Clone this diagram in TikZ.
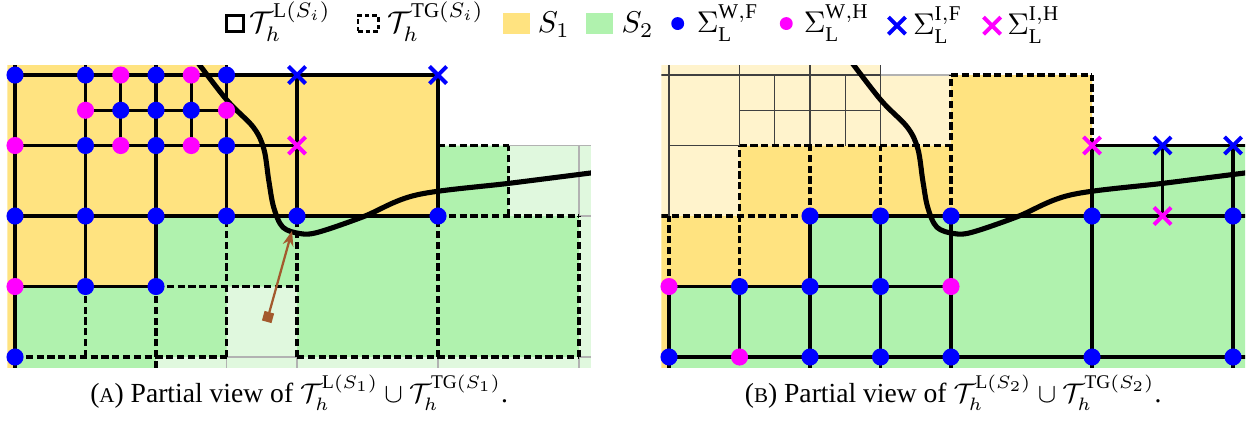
\documentclass[tikz,border=0pt]{standalone}
\usepackage{fontspec}
\setmainfont{Liberation Serif}
\usetikzlibrary{arrows.meta,positioning,shapes.misc}
\definecolor{soneyellow}{RGB}{255,227,128}
\definecolor{sonefaint}{RGB}{255,243,204}
\definecolor{stwogreen}{RGB}{176,242,174}
\definecolor{stwofaint}{RGB}{224,248,222}
\definecolor{markblue}{RGB}{0,0,255}
\definecolor{markmagenta}{RGB}{255,0,255}
\definecolor{arrowbrown}{RGB}{163,90,45}
\tikzset{
  mesh/.style={line width=1.15pt, line cap=round, line join=round},
  ghost/.style={line width=1.15pt, dash pattern=on 2.4pt off 1.2pt, line join=round},
  fine/.style={line width=0.4pt, draw=black!75},
  faint/.style={line width=0.4pt, draw=black!30},
  interface/.style={line width=1.7pt, line cap=round},
  node-wf/.style={circle, fill=markblue, minimum size=5.7pt, inner sep=0pt},
  node-wh/.style={circle, fill=markmagenta, minimum size=5.7pt, inner sep=0pt},
  node-if/.style={cross out, draw=markblue, line width=1.3pt, minimum size=4.4pt, inner sep=0pt},
  node-ih/.style={cross out, draw=markmagenta, line width=1.3pt, minimum size=4.4pt, inner sep=0pt},
  lbl/.style={inner sep=0pt, anchor=base west, yshift=-3.1pt},
  caption/.style={anchor=base, font=\fontsize{9.2pt}{11pt}\selectfont}
}
\newcommand{\interfacecurve}{%
  \draw[interface] plot[smooth, tension=0.55] coordinates {(2.5,4.3) (3.0,3.65)
    (3.38,3.26) (3.53,2.95) (3.6,2.5) (3.67,2.12) (3.8,1.84) (4.05,1.75)
    (4.3,1.77) (4.94,1.99) (5.7,2.3) (7.06,2.47) (8.4,2.64)};
}
\newcommand{\capletter}[1]{{\fontsize{7pt}{9pt}\selectfont #1}}

\begin{document}
\begin{tikzpicture}[x=0.826cm, y=0.826cm]
  \useasboundingbox (-0.213,-1.007) rectangle (17.617,5.064);
  % legend
  \node[draw, line width=0.9pt, minimum width=5.8pt, minimum height=5.2pt, inner sep=0pt] (key-mesh) at (3.12,4.73) {};
  \node[right=1.3pt of key-mesh, lbl] (key-mesh-text) {$\mathcal{T}_h^{\mathrm{L}(S_i)}$};
  \node[draw, line width=0.9pt, dash pattern=on 1.5pt off 1pt, minimum width=6.8pt, minimum height=5.2pt, inner sep=0pt] (key-ghost) at (5.01,4.73) {};
  \node[right=2.3pt of key-ghost, lbl] (key-ghost-text) {$\mathcal{T}_h^{\mathrm{TG}(S_i)}$};
  \node[fill=soneyellow, minimum width=9pt, minimum height=7pt, inner sep=0pt] (key-sone) at (7.11,4.73) {};
  \node[right=2.3pt of key-sone, lbl] (key-sone-text) {$S_1$};
  \node[fill=stwogreen, minimum width=9pt, minimum height=7pt, inner sep=0pt] (key-stwo) at (8.29,4.73) {};
  \node[right=2.5pt of key-stwo, lbl] (key-stwo-text) {$S_2$};
  \node[node-wf, minimum size=4.3pt] (key-wf) at (9.40,4.73) {};
  \node[right=3.8pt of key-wf, lbl] (key-wf-text) {$\Sigma_{\mathrm{L}}^{\mathrm{W,F}}$};
  \node[node-wh, minimum size=4.3pt] (key-wh) at (10.94,4.73) {};
  \node[right=3.3pt of key-wh, lbl] (key-wh-text) {$\Sigma_{\mathrm{L}}^{\mathrm{W,H}}$};
  \node[node-if] (key-if) at (12.51,4.70) {};
  \node[right=2.3pt of key-if, lbl] (key-if-text) {$\Sigma_{\mathrm{L}}^{\mathrm{I,F}}$};
  \node[node-ih] (key-ih) at (13.86,4.70) {};
  \node[right=2pt of key-ih, lbl] (key-ih-text) {$\Sigma_{\mathrm{L}}^{\mathrm{I,H}}$};

  % (a) view from S1
  \begin{scope}
    \clip (-0.11,-0.155) rectangle (8.17,4.14);
    \fill[soneyellow] (-0.11,-0.155) rectangle (0,1) (-0.11,1) rectangle (2,2)
      (-0.11,2) rectangle (3,4.14) (3,2) rectangle (6,4);
    \fill[stwogreen] (0,-0.155) rectangle (2,1) (2,0) rectangle (8,2) (6,2) rectangle (7,3);
    \fill[stwofaint] (2,-0.155) rectangle (8.17,0) (3,0) rectangle (4,1)
      (8,0) rectangle (8.17,3) (7,2) rectangle (8.17,3);
    \draw[faint] (3,0) -- (4,0) (8,0) -- (8.17,0) (8,2) -- (8.17,2)
      (7,3) -- (8.17,3) (8,2) -- (8,3);
    \foreach \x in {3,4,6,8}
      \draw[faint] (\x,-0.155) -- (\x,0);
    \draw[ghost] (0,0) -- (3,0) (4,0) -- (8,0) (2,1) -- (4,1) (6,2) -- (8,2)
      (6,3) -- (7,3) (1,0) -- (1,1) (2,-0.155) -- (2,1) (3,0) -- (3,2)
      (4,0) -- (4,2) (6,0) -- (6,2) (8,0) -- (8,2) (7,2) -- (7,3);
    \draw[mesh] (-0.11,4) -- (6,4) (1,3.5) -- (3,3.5) (-0.11,3) -- (4,3)
      (-0.11,2) -- (6,2) (-0.11,1) -- (2,1);
    \draw[mesh] (0,-0.155) -- (0,4.14) (1,1) -- (1,4.14) (2,1) -- (2,4.14)
      (3,2) -- (3,4.14) (1.5,3) -- (1.5,4) (2.5,3) -- (2.5,4)
      (4,2) -- (4,4) (6,2) -- (6,4);
    \interfacecurve
  \end{scope}
  \foreach \x/\y [count=\k] in {0/4,1/4,2/4,3/4,1.5/3.5,2/3.5,2.5/3.5,1/3,2/3,3/3,
      0/2,1/2,2/2,3/2,4/2,6/2,1/1,2/1,0/0}
    \node[node-wf] (a-wf-\k) at (\x,\y) {};
  \foreach \x/\y [count=\k] in {1.5/4,2.5/4,1/3.5,3/3.5,0/3,1.5/3,2.5/3,0/1}
    \node[node-wh] (a-wh-\k) at (\x,\y) {};
  \foreach \x/\y [count=\k] in {4/4,6/4}
    \node[node-if] (a-if-\k) at (\x,\y) {};
  \node[node-ih] (a-ih-1) at (4,3) {};
  \coordinate (arrow-src) at (3.57,0.5);
  \coordinate (arrow-tip) at (3.93,1.79);
  \draw[arrowbrown, line width=0.75pt, {Square[length=3.3pt,width=3.3pt]}-{Stealth[length=5pt,width=3.6pt]}]
    (arrow-src) -- (arrow-tip);
  \node[caption] (cap-a) at (4.03,-0.64)
    {(\capletter{A}) Partial view of $\mathcal{T}_h^{\mathrm{L}(S_1)}\cup\mathcal{T}_h^{\mathrm{TG}(S_1)}$.};

  % (b) view from S2
  \begin{scope}[shift={(9.277,0)}]
    \begin{scope}
      \clip (-0.11,-0.155) rectangle (8.17,4.14);
      \fill[sonefaint] (-0.11,2) rectangle (1,3) (-0.11,3) rectangle (3,4.14) (3,3) rectangle (4,4);
      \fill[soneyellow] (1,2) rectangle (4,3) (4,2) rectangle (6,4)
        (-0.11,1) rectangle (2,2) (-0.11,-0.155) rectangle (0,1);
      \fill[stwogreen] (0,-0.155) rectangle (8.17,1) (2,1) rectangle (8.17,2) (6,2) rectangle (8.17,3);
      \draw[fine] (0,2) -- (0,4.14) (1,3) -- (1,4.14) (2,3) -- (2,4.14) (3,3) -- (3,4.14)
        (1.5,3) -- (1.5,4) (2.5,3) -- (2.5,4) (1,3.5) -- (3,3.5) (-0.11,4) -- (3,4) (0,3) -- (1,3);
      \draw[faint] (3,4) -- (4,4);
      \draw[ghost] (-0.11,2) -- (2,2) (1,3) -- (4,3) (4,4) -- (6,4)
        (0,1) -- (0,2) (1,1) -- (1,3) (2,2) -- (2,3) (3,2) -- (3,3)
        (4,2) -- (4,4) (6,3) -- (6,4);
      \draw[mesh] (-0.11,0) -- (8.17,0) (0,1) -- (4,1) (2,2) -- (8.17,2) (6,3) -- (8.17,3);
      \draw[mesh] (0,-0.155) -- (0,1) (1,0) -- (1,1) (2,-0.155) -- (2,2) (3,-0.155) -- (3,2)
        (4,-0.155) -- (4,2) (6,-0.155) -- (6,3) (8,-0.155) -- (8,3) (7,2) -- (7,3);
      \interfacecurve
    \end{scope}
    \foreach \x/\y [count=\k] in {2/2,3/2,4/2,6/2,8/2,1/1,2/1,3/1,0/0,2/0,3/0,4/0,6/0,8/0}
      \node[node-wf] (b-wf-\k) at (\x,\y) {};
    \foreach \x/\y [count=\k] in {0/1,4/1,1/0}
      \node[node-wh] (b-wh-\k) at (\x,\y) {};
    \foreach \x/\y [count=\k] in {7/3,8/3}
      \node[node-if] (b-if-\k) at (\x,\y) {};
    \foreach \x/\y [count=\k] in {6/3,7/2}
      \node[node-ih] (b-ih-\k) at (\x,\y) {};
    \node[caption] (cap-b) at (4.03,-0.64)
      {(\capletter{B}) Partial view of $\mathcal{T}_h^{\mathrm{L}(S_2)}\cup\mathcal{T}_h^{\mathrm{TG}(S_2)}$.};
  \end{scope}
\end{tikzpicture}
\end{document}
